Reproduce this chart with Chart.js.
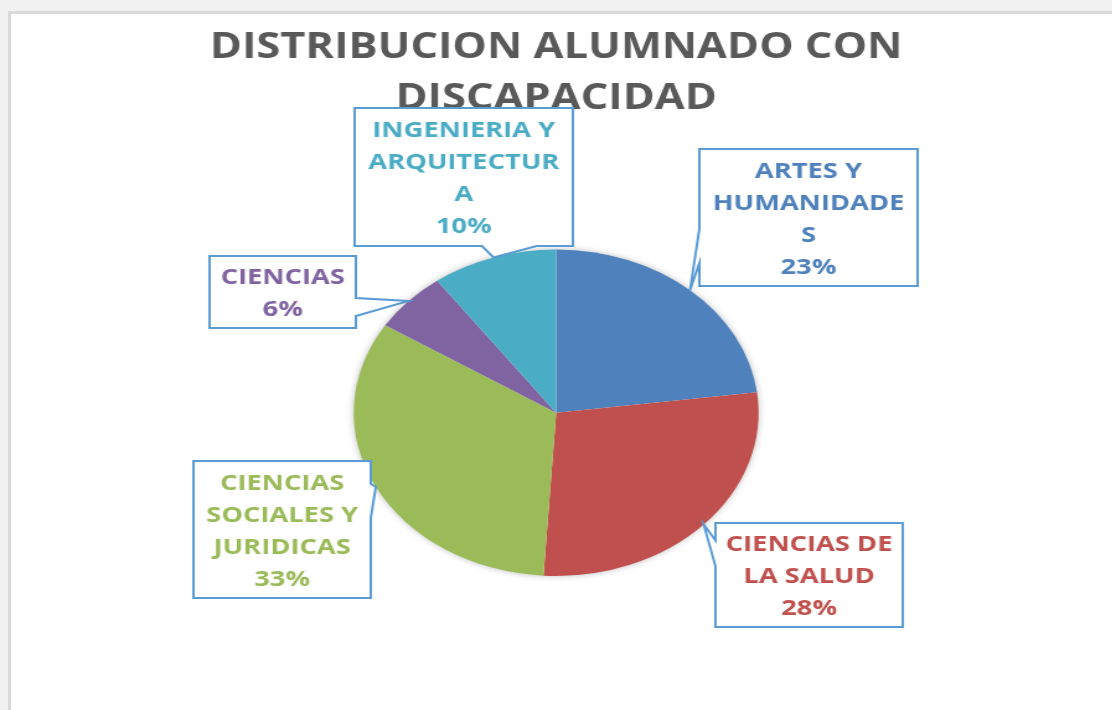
<!DOCTYPE html>
<html lang="es">
<head>
<meta charset="utf-8">
<title>Distribucion alumnado con discapacidad</title>
<script src="https://cdn.jsdelivr.net/npm/chart.js@4.4.1/dist/chart.umd.min.js"></script>
<style>
    html, body {
        margin: 0;
        padding: 0;
        width: 1112px;
        height: 710px;
        overflow: hidden;
        background: #f1f1f1;
    }
    .marco {
        position: absolute;
        left: 8px;
        top: 11px;
        right: 0;
        bottom: 0;
        background: #ffffff;
        border-top: 3px solid #dadada;
        border-left: 3px solid #dadada;
    }
    /* el grafico original esta estirado en horizontal */
    .lienzo {
        position: absolute;
        left: 0;
        top: 0;
        width: 897px;
        height: 710px;
        transform: scaleX(1.24);
        transform-origin: 0 0;
    }
</style>
</head>
<body>
<div class="marco"></div>
<div class="lienzo">
    <canvas id="chartDiscapacidad" width="897" height="710"></canvas>
</div>

<script>
// SECCIÓN 1: DATOS

const categorias = [
    'ARTES Y HUMANIDADES',
    'CIENCIAS DE LA SALUD',
    'CIENCIAS SOCIALES Y JURIDICAS',
    'CIENCIAS',
    'INGENIERIA Y ARQUITECTURA'
];
const porcentajes = [23, 28, 33, 6, 10];

// cortes de linea tal y como salen en las etiquetas
const lineasEtiqueta = [
    ['ARTES Y', 'HUMANIDADE', 'S'],
    ['CIENCIAS DE', 'LA SALUD'],
    ['CIENCIAS', 'SOCIALES Y', 'JURIDICAS'],
    ['CIENCIAS'],
    ['INGENIERIA Y', 'ARQUITECTUR', 'A']
];

const titulo = ['DISTRIBUCION ALUMNADO CON', 'DISCAPACIDAD'];

// SECCIÓN 2: COLORES Y CAJAS DE LAS ETIQUETAS

const colores = ['#4F81BD', '#C0504D', '#9BBB59', '#8064A2', '#4BACC6'];
const colorBorde = '#5B9BD5';

// cajas en coordenadas del lienzo (x sin estirar)
const cajasEtiqueta = [
    { x: 564, y: 149, w: 176, h: 137 },
    { x: 577, y: 523, w: 151, h: 104 },
    { x: 156, y: 461, w: 143, h: 137 },
    { x: 169, y: 256, w: 118, h: 72 },
    { x: 286, y: 108, w: 176, h: 138 }
];

// SECCIÓN 3: PLUGINS

// sombra suave bajo la tarta
const sombraTarta = {
    id: 'sombraTarta',
    beforeDatasetsDraw(chart) {
        const arco = chart.getDatasetMeta(0).data[0];
        if (!arco) return;
        const ctx = chart.ctx;
        ctx.save();
        ctx.beginPath();
        ctx.arc(arco.x, arco.y, arco.outerRadius - 1, 0, Math.PI * 2);
        ctx.fillStyle = '#ffffff';
        ctx.shadowColor = 'rgba(0, 0, 0, 0.35)';
        ctx.shadowBlur = 7;
        ctx.fill();
        ctx.restore();
    }
};

// etiquetas tipo "bocadillo" de Excel
const etiquetasBocadillo = {
    id: 'etiquetasBocadillo',
    afterDatasetsDraw(chart) {
        const ctx = chart.ctx;
        const arcos = chart.getDatasetMeta(0).data;
        const total = porcentajes.reduce((a, b) => a + b, 0);

        arcos.forEach((arco, i) => {
            const caja = cajasEtiqueta[i];
            const medio = (arco.startAngle + arco.endAngle) / 2;
            const punta = {
                x: arco.x + Math.cos(medio) * arco.outerRadius,
                y: arco.y + Math.sin(medio) * arco.outerRadius
            };

            ctx.save();
            dibujarBocadillo(ctx, caja, punta);

            // texto
            const lineas = lineasEtiqueta[i].concat([Math.round(porcentajes[i] / total * 100) + '%']);
            const alto = 32;
            const cx = caja.x + caja.w / 2;
            let y = caja.y + caja.h / 2 - (lineas.length - 1) * alto / 2;
            ctx.fillStyle = colores[i];
            ctx.font = 'bold 22px "Open Sans"';
            ctx.textAlign = 'center';
            ctx.textBaseline = 'middle';
            lineas.forEach(linea => {
                ctx.fillText(linea, cx, y + 2);
                y += alto;
            });
            ctx.restore();
        });
    }
};

function dibujarBocadillo(ctx, caja, punta) {
    const { x, y, w, h } = caja;
    const dx = (punta.x - (x + w / 2)) / w;
    const dy = (punta.y - (y + h / 2)) / h;
    let lado;
    if (Math.abs(dx) > Math.abs(dy)) {
        lado = dx < 0 ? 'izq' : 'der';
    } else {
        lado = dy < 0 ? 'arriba' : 'abajo';
    }

    // base de la cuña: 2/12-5/12 o 7/12-10/12 del lado
    const primeraMitad = (lado === 'izq' || lado === 'der') ? dy < 0 : dx < 0;
    const a = primeraMitad ? 2 / 12 : 7 / 12;
    const b = primeraMitad ? 5 / 12 : 10 / 12;

    ctx.beginPath();
    ctx.moveTo(x, y);
    if (lado === 'arriba') {
        ctx.lineTo(x + w * a, y);
        ctx.lineTo(punta.x, punta.y);
        ctx.lineTo(x + w * b, y);
    }
    ctx.lineTo(x + w, y);
    if (lado === 'der') {
        ctx.lineTo(x + w, y + h * a);
        ctx.lineTo(punta.x, punta.y);
        ctx.lineTo(x + w, y + h * b);
    }
    ctx.lineTo(x + w, y + h);
    if (lado === 'abajo') {
        ctx.lineTo(x + w * b, y + h);
        ctx.lineTo(punta.x, punta.y);
        ctx.lineTo(x + w * a, y + h);
    }
    ctx.lineTo(x, y + h);
    if (lado === 'izq') {
        ctx.lineTo(x, y + h * b);
        ctx.lineTo(punta.x, punta.y);
        ctx.lineTo(x, y + h * a);
    }
    ctx.closePath();
    ctx.fillStyle = '#ffffff';
    ctx.fill();
    ctx.lineWidth = 2;
    ctx.lineJoin = 'miter';
    ctx.strokeStyle = colorBorde;
    ctx.stroke();
}

// SECCIÓN 4: GRÁFICO

document.addEventListener('DOMContentLoaded', function() {
    const ctx = document.getElementById('chartDiscapacidad').getContext('2d');

    new Chart(ctx, {
        type: 'pie',
        data: {
            labels: categorias,
            datasets: [{
                data: porcentajes,
                backgroundColor: colores,
                borderWidth: 0,
                hoverOffset: 0,
                clip: false
            }]
        },
        options: {
            responsive: false,
            animation: false,
            events: [],
            layout: {
                padding: { top: 0, bottom: 134, left: 0, right: 0 }
            },
            plugins: {
                legend: { display: false },
                tooltip: { enabled: false },
                title: {
                    display: true,
                    text: titulo,
                    color: '#595959',
                    z: 1,
                    font: {
                        family: '"Open Sans"',
                        size: 35,
                        weight: 'bold',
                        lineHeight: 1.45
                    },
                    padding: { top: 23, bottom: 125 }
                }
            }
        },
        plugins: [sombraTarta, etiquetasBocadillo]
    });
});
</script>
</body>
</html>
